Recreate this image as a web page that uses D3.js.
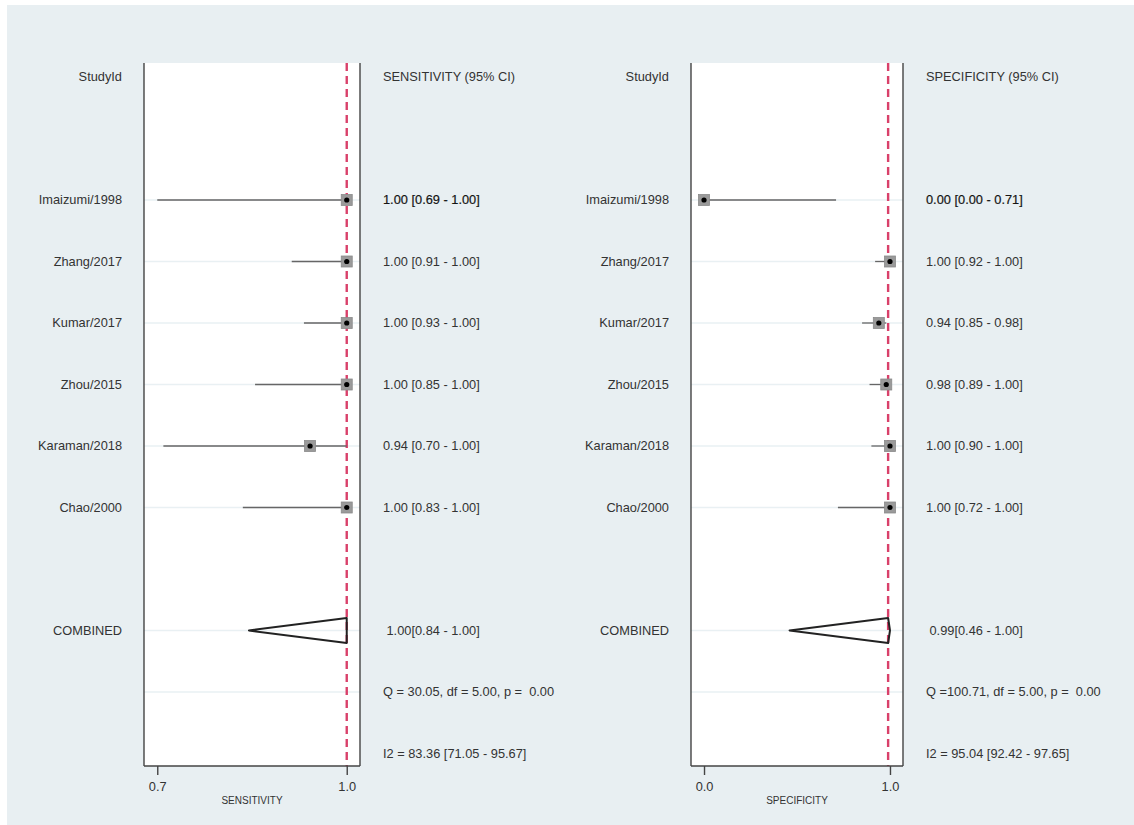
<!DOCTYPE html>
<html>
<head>
<meta charset="utf-8">
<script src="https://cdn.jsdelivr.net/npm/d3@7"></script>
<style>
  html, body { margin: 0; padding: 0; background: #ffffff; }
  svg { display: block; }
  text { font-family: "Liberation Sans", Arial, sans-serif; fill: #333; }
</style>
</head>
<body>
<svg id="chart" width="1134" height="825"></svg>
<script>
// Study names, in display order
const studies = ["Imaizumi/1998", "Zhang/2017", "Kumar/2017", "Zhou/2015", "Karaman/2018", "Chao/2000"];

// Sensitivity per study with 95% CI
const sensEst = [1.00, 1.00, 1.00, 1.00, 0.94, 1.00];
const sensLo  = [0.69, 0.91, 0.93, 0.85, 0.70, 0.83];
const sensHi  = [1.00, 1.00, 1.00, 1.00, 1.00, 1.00];

// Specificity per study with 95% CI
const specEst = [0.00, 1.00, 0.94, 0.98, 1.00, 1.00];
const specLo  = [0.00, 0.92, 0.85, 0.89, 0.90, 0.72];
const specHi  = [0.71, 1.00, 0.98, 1.00, 1.00, 1.00];

// Pooled estimates [estimate, lower, upper]
const sensPooled = [1.00, 0.84, 1.00];
const specPooled = [0.99, 0.46, 1.00];

// Heterogeneity statistics
const sensQ = ["Q = 30.05, df = 5.00, p =  0.00", "I2 = 83.36 [71.05 - 95.67]"];
const specQ = ["Q =100.71, df = 5.00, p =  0.00", "I2 = 95.04 [92.42 - 97.65]"];

// Axis tick values (CI extremes) and their labels
const sensTicks = [0.69, 1.00];
const sensTickLabels = ["0.7", "1.0"];
const specTicks = [0.00, 1.00];
const specTickLabels = ["0.0", "1.0"];

const svg = d3.select("#chart");
const f2 = d3.format(".2f");
const fs = 12.8;

// backdrop
svg.append("rect").attr("x", 7).attr("y", 5).attr("width", 1127).attr("height", 820)
  .attr("fill", "#e8eff2");

// row positions: 0 = header, 2..7 = studies, 9 = pooled, 10/11 = heterogeneity
const y = d3.scaleLinear().domain([0, 11]).range([77, 753.5]);
const plotTop = 63, plotBottom = 766;

function drawPanel(cfg) {
  const pad = 0.07 * (cfg.ticks[1] - cfg.ticks[0]);
  const x = d3.scaleLinear()
    .domain([cfg.ticks[0] - pad, cfg.ticks[1] + pad])
    .range([cfg.left, cfg.right]);
  const g = svg.append("g");

  // plot area
  g.append("rect").attr("x", cfg.left).attr("y", plotTop)
    .attr("width", cfg.right - cfg.left).attr("height", plotBottom - plotTop)
    .attr("fill", "#ffffff");

  // row guide lines
  const gridRows = [2, 3, 4, 5, 6, 7, 9, 10];
  g.selectAll(".grid").data(gridRows).join("line")
    .attr("x1", cfg.left).attr("x2", cfg.right)
    .attr("y1", d => y(d)).attr("y2", d => y(d))
    .attr("stroke", "#e9f0f3").attr("stroke-width", 1.6);

  // reference line at pooled estimate
  g.append("line")
    .attr("x1", x(cfg.pooled[0])).attr("x2", x(cfg.pooled[0]))
    .attr("y1", plotTop).attr("y2", plotBottom)
    .attr("stroke", "#d9406a").attr("stroke-width", 2.4)
    .attr("stroke-dasharray", "8,5");

  // study CIs
  const rows = studies.map((s, i) => ({ s, i, est: cfg.est[i], lo: cfg.lo[i], hi: cfg.hi[i] }));
  g.selectAll(".ci").data(rows).join("line")
    .attr("x1", d => x(d.lo)).attr("x2", d => x(d.hi))
    .attr("y1", d => y(d.i + 2)).attr("y2", d => y(d.i + 2))
    .attr("stroke", "#666").attr("stroke-width", 1.3);

  // study point estimates
  const sq = 11;
  g.selectAll(".box").data(rows).join("rect")
    .attr("x", d => x(d.est) - sq / 2).attr("y", d => y(d.i + 2) - sq / 2)
    .attr("width", sq).attr("height", sq)
    .attr("fill", "#9a9a9a").attr("stroke", "#8a8a8a").attr("stroke-width", 0.8);
  g.selectAll(".dot").data(rows).join("circle")
    .attr("cx", d => x(d.est)).attr("cy", d => y(d.i + 2)).attr("r", 2.6)
    .attr("fill", "#000");

  // pooled diamond
  const py = y(9), h = 12.5;
  const [pe, pl, ph] = cfg.pooled;
  g.append("path")
    .attr("d", `M${x(pl)},${py} L${x(pe)},${py - h} L${x(ph)},${py} L${x(pe)},${py + h} Z`)
    .attr("fill", "none").attr("stroke", "#222").attr("stroke-width", 2).attr("stroke-linejoin", "round");

  // frame: sides and bottom
  g.append("line").attr("x1", cfg.left).attr("x2", cfg.left).attr("y1", plotTop).attr("y2", plotBottom)
    .attr("stroke", "#444").attr("stroke-width", 1.4);
  g.append("line").attr("x1", cfg.right).attr("x2", cfg.right).attr("y1", plotTop).attr("y2", plotBottom)
    .attr("stroke", "#444").attr("stroke-width", 1.4);

  // x axis
  const axis = d3.axisBottom(x).tickValues(cfg.ticks)
    .tickFormat((d, i) => cfg.tickLabels[i]).tickSize(9).tickSizeOuter(0).tickPadding(7);
  const ax = g.append("g").attr("transform", `translate(0,${plotBottom})`).call(axis);
  ax.select(".domain").attr("stroke", "#444").attr("stroke-width", 1.4)
    .attr("d", `M${cfg.left},0H${cfg.right}`);
  ax.selectAll(".tick line").attr("stroke", "#444").attr("stroke-width", 1.4);
  ax.selectAll(".tick text").attr("font-size", fs).attr("fill", "#333")
    .attr("font-family", "Liberation Sans, Arial, sans-serif");
  g.append("text").attr("x", (cfg.left + cfg.right) / 2).attr("y", 804)
    .attr("text-anchor", "middle").attr("font-size", 10).text(cfg.title);

  // study labels
  g.append("text").attr("x", cfg.labelX).attr("y", y(0)).attr("dy", "0.35em")
    .attr("text-anchor", "end").attr("font-size", fs).text("StudyId");
  g.selectAll(".lab").data(rows).join("text")
    .attr("x", cfg.labelX).attr("y", d => y(d.i + 2)).attr("dy", "0.35em")
    .attr("text-anchor", "end").attr("font-size", fs).text(d => d.s);
  g.append("text").attr("x", cfg.labelX).attr("y", y(9)).attr("dy", "0.35em")
    .attr("text-anchor", "end").attr("font-size", fs).text("COMBINED");

  // value column
  g.append("text").attr("x", cfg.valX).attr("y", y(0)).attr("dy", "0.35em")
    .attr("font-size", fs).text(cfg.title + " (95% CI)");
  g.selectAll(".val").data(rows).join("text")
    .attr("x", cfg.valX).attr("y", d => y(d.i + 2)).attr("dy", "0.35em")
    .attr("font-size", fs)
    .style("fill", d => d.i === 0 ? "#111" : "#333")
    .attr("stroke", d => d.i === 0 ? "#222" : "none").attr("stroke-width", 0.2)
    .text(d => `${f2(d.est)} [${f2(d.lo)} - ${f2(d.hi)}]`);
  g.append("text").attr("x", cfg.valX + 3.5).attr("y", y(9)).attr("dy", "0.35em")
    .attr("font-size", fs).text(`${f2(pe)}[${f2(pl)} - ${f2(ph)}]`);
  g.selectAll(".het").data(cfg.het).join("text")
    .attr("x", cfg.valX).attr("y", (d, i) => y(10 + i)).attr("dy", "0.35em")
    .attr("font-size", fs).style("white-space", "pre").attr("xml:space", "preserve")
    .text(d => d);
}

drawPanel({
  left: 144, right: 360, labelX: 122, valX: 383,
  est: sensEst, lo: sensLo, hi: sensHi, pooled: sensPooled,
  ticks: sensTicks, tickLabels: sensTickLabels, title: "SENSITIVITY", het: sensQ
});
drawPanel({
  left: 691, right: 903, labelX: 669, valX: 926,
  est: specEst, lo: specLo, hi: specHi, pooled: specPooled,
  ticks: specTicks, tickLabels: specTickLabels, title: "SPECIFICITY", het: specQ
});
</script>
</body>
</html>
